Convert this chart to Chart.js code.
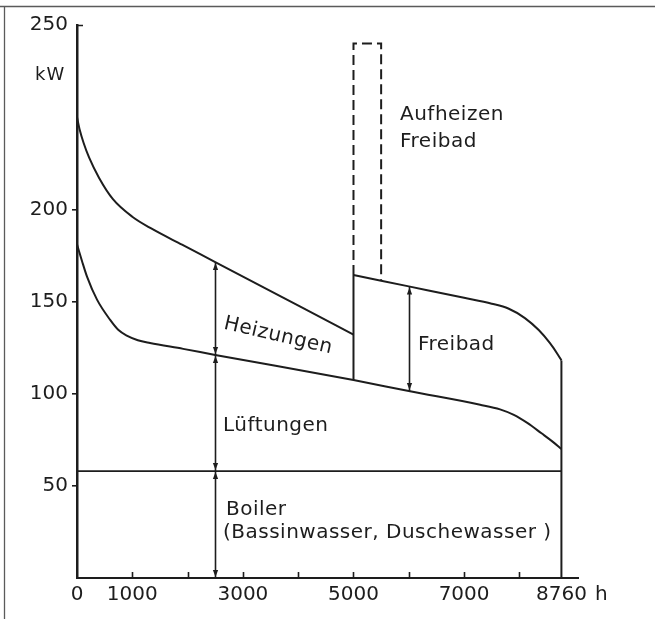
<!DOCTYPE html>
<html>
<head>
<meta charset="utf-8">
<script src="https://cdn.jsdelivr.net/npm/chart.js@4.4.1/dist/chart.umd.min.js"></script>
<style>
  html, body { margin: 0; padding: 0; background: #fff; }
  canvas { display: block; }
</style>
</head>
<body>
<canvas id="chart" width="655" height="619"></canvas>
<script>
// Lastganglinie Hallenbad / Freibad (kW über Jahresstunden)
const heizHours = [0, 50, 120, 220, 400, 650, 1000, 1350, 1900, 2500, 4030, 5000];
const heizKW = [250, 243, 236, 228, 217, 205.5, 196, 189.5, 180.8, 171.4, 147.3, 132];

const lueftHours = [0, 90, 181, 362, 600, 750, 900, 1100, 1320, 1920, 2500, 5000, 6000, 7290, 7650, 7900, 8150, 8400, 8600, 8760];
const lueftKW = [181, 172, 163.5, 151, 140, 134.5, 131.5, 129, 127.5, 124.3, 121, 107.4, 101.4, 94, 91.5, 88.5, 84, 78.5, 74, 70];

const freibadHours = [5000, 6000, 7000, 7500, 7800, 8100, 8350, 8550, 8700, 8760];
const freibadKW = [164.4, 158.2, 152, 148.8, 146.2, 141, 134.5, 127.5, 121, 118];

const boilerKW = 58;
const yearHours = 8760;

const peakHours = [5000, 5500];
const peakKW = 290;

// Doppelpfeile: Stunde, [von, bis]
const arrowHours = [2500, 2500, 2500, 6000];
const arrowFrom = [0, 58, 121, 101.4];
const arrowTo = [58, 121, 171.4, 158.2];

const yTickValues = [50, 100, 150, 200, 300];
const yTickLabels = ['50', '100', '150', '200', '250'];
const xTickValues = [0, 1000, 3000, 5000, 7000, 8760];
const xTickLabels = ['0', '1000', '3000', '5000', '7000', '8760'];
const xMarkValues = [1000, 2000, 3000, 4000, 5000, 6000, 7000, 8000];

const labelTexts = ['Aufheizen', 'Freibad', 'Freibad', 'Heizungen', 'Lüftungen', 'Boiler', '(Bassinwasser, Duschewasser )', 'kW', 'h'];

(function () {
    const INK = '#1d1d1d';
    const FONT = '"DejaVu Sans", "Liberation Sans", sans-serif';

    function pts(xs, ys) {
        return xs.map((x, i) => ({ x, y: ys[i] }));
    }

    const lueftAt5000 = lueftKW[lueftHours.indexOf(5000)];
    const freibadEnd = freibadKW[freibadKW.length - 1];

    const base = { showLine: true, pointRadius: 0, borderColor: INK, borderWidth: 2, fill: false };

    const datasets = [
        { ...base, label: 'Boiler', data: [{ x: 0, y: boilerKW }, { x: yearHours, y: boilerKW }], borderWidth: 1.8 },
        { ...base, label: 'Lüftungen', data: pts(lueftHours, lueftKW), cubicInterpolationMode: 'monotone' },
        { ...base, label: 'Heizungen', data: pts(heizHours, heizKW), cubicInterpolationMode: 'monotone' },
        { ...base, label: 'Freibad links', data: [{ x: 5000, y: lueftAt5000 }, { x: 5000, y: freibadKW[0] }] },
        { ...base, label: 'Freibad', data: pts(freibadHours, freibadKW), cubicInterpolationMode: 'monotone' },
        { ...base, label: 'Jahresende', data: [{ x: yearHours, y: 0 }, { x: yearHours, y: freibadEnd }] },
        {
            ...base,
            label: 'Aufheizen Freibad',
            data: [
                { x: peakHours[0], y: freibadKW[0] },
                { x: peakHours[0], y: peakKW },
                { x: peakHours[1], y: peakKW },
                { x: peakHours[1], y: 161.3 },
            ],
            borderDash: [10, 5],
        },
    ];

    // label anchors (left, baseline) in data units
    const labelPos = [
        [5841, 248.5, 0], [5841, 233.8, 0], [6166, 123.7, 0], [2640, 135.3, 13],
        [2640, 79.7, 0], [2694, 34.2, 0], [2640, 21.7, 0], [-760, 270.2, 0], [9367, -12, 0],
    ];

    const decor = {
        id: 'decor',
        afterDraw(chart) {
            const ctx = chart.ctx;
            const xs = chart.scales.x;
            const ys = chart.scales.y;
            const area = chart.chartArea;
            ctx.save();

            // Rahmen der Vorlage
            ctx.strokeStyle = '#5a5a5a';
            ctx.lineWidth = 1.3;
            ctx.beginPath();
            ctx.moveTo(0, 6.5); ctx.lineTo(655, 6.5);
            ctx.moveTo(4.5, 6.5); ctx.lineTo(4.5, 619);
            ctx.stroke();

            // Teilstriche nach innen
            ctx.strokeStyle = INK;
            ctx.lineWidth = 1.6;
            ctx.beginPath();
            xMarkValues.forEach(v => {
                const px = Math.round(xs.getPixelForValue(v)) + 0.5;
                ctx.moveTo(px, area.bottom);
                ctx.lineTo(px, area.bottom - 6);
            });
            const topY = ys.getPixelForValue(300);
            ctx.moveTo(area.left, topY + 0.5);
            ctx.lineTo(area.left + 6, topY + 0.5);
            ctx.stroke();

            // Doppelpfeile
            ctx.fillStyle = INK;
            ctx.lineWidth = 1.6;
            function head(x, yTip, up) {
                const b = up ? yTip + 7 : yTip - 7;
                ctx.beginPath();
                ctx.moveTo(x, yTip);
                ctx.lineTo(x - 2.6, b);
                ctx.lineTo(x + 2.6, b);
                ctx.closePath();
                ctx.fill();
            }
            arrowHours.forEach((h, i) => {
                const px = Math.round(xs.getPixelForValue(h)) + 0.5;
                const y0 = ys.getPixelForValue(arrowFrom[i]);
                const y1 = ys.getPixelForValue(arrowTo[i]);
                ctx.beginPath();
                ctx.moveTo(px, y0);
                ctx.lineTo(px, y1);
                ctx.stroke();
                head(px, y1 + 1, true);
                head(px, y0 - 1, false);
            });

            // Beschriftungen
            ctx.fillStyle = INK;
            ctx.textBaseline = 'alphabetic';
            ctx.textAlign = 'left';
            labelTexts.forEach((t, i) => {
                const [lx, ly, rot] = labelPos[i];
                const small = t === 'kW';
                ctx.font = (small ? '18px ' : '20px ') + FONT;
                ctx.letterSpacing = small ? '1px' : '0.5px';
                ctx.save();
                ctx.translate(xs.getPixelForValue(lx), ys.getPixelForValue(ly));
                if (rot) ctx.rotate(rot * Math.PI / 180);
                ctx.fillText(t, 0, 0);
                ctx.restore();
            });
            ctx.restore();
        },
    };

    new Chart(document.getElementById('chart'), {
        type: 'scatter',
        data: { datasets },
        options: {
            responsive: false,
            animation: false,
            devicePixelRatio: 1,
            layout: { padding: { top: 25, right: 77, bottom: 0, left: 0 } },
            plugins: { legend: { display: false }, tooltip: { enabled: false } },
            scales: {
                x: {
                    type: 'linear',
                    min: 0,
                    max: 9060,
                    afterBuildTicks: s => { s.ticks = xTickValues.map(v => ({ value: v })); },
                    afterFit: s => { s.height = 41; },
                    grid: { display: false, drawTicks: false },
                    border: { display: true, color: INK, width: 2 },
                    ticks: {
                        autoSkip: false,
                        maxRotation: 0,
                        padding: 5,
                        color: INK,
                        font: { family: FONT, size: 20 },
                        callback: (v, i) => xTickLabels[i],
                    },
                },
                y: {
                    type: 'linear',
                    min: 0,
                    max: 300,
                    afterBuildTicks: s => { s.ticks = yTickValues.map(v => ({ value: v })); },
                    afterFit: s => { s.width = 77; },
                    grid: {
                        drawOnChartArea: false,
                        drawTicks: true,
                        tickLength: 5,
                        lineWidth: 1.6,
                        color: c => (c.tick && c.tick.value === 300 ? 'rgba(0,0,0,0)' : INK),
                    },
                    border: { display: true, color: INK, width: 2.5 },
                    ticks: {
                        padding: 4,
                        color: INK,
                        font: { family: FONT, size: 20 },
                        callback: (v, i) => yTickLabels[i],
                    },
                },
            },
        },
        plugins: [decor],
    });
})();
</script>
</body>
</html>
